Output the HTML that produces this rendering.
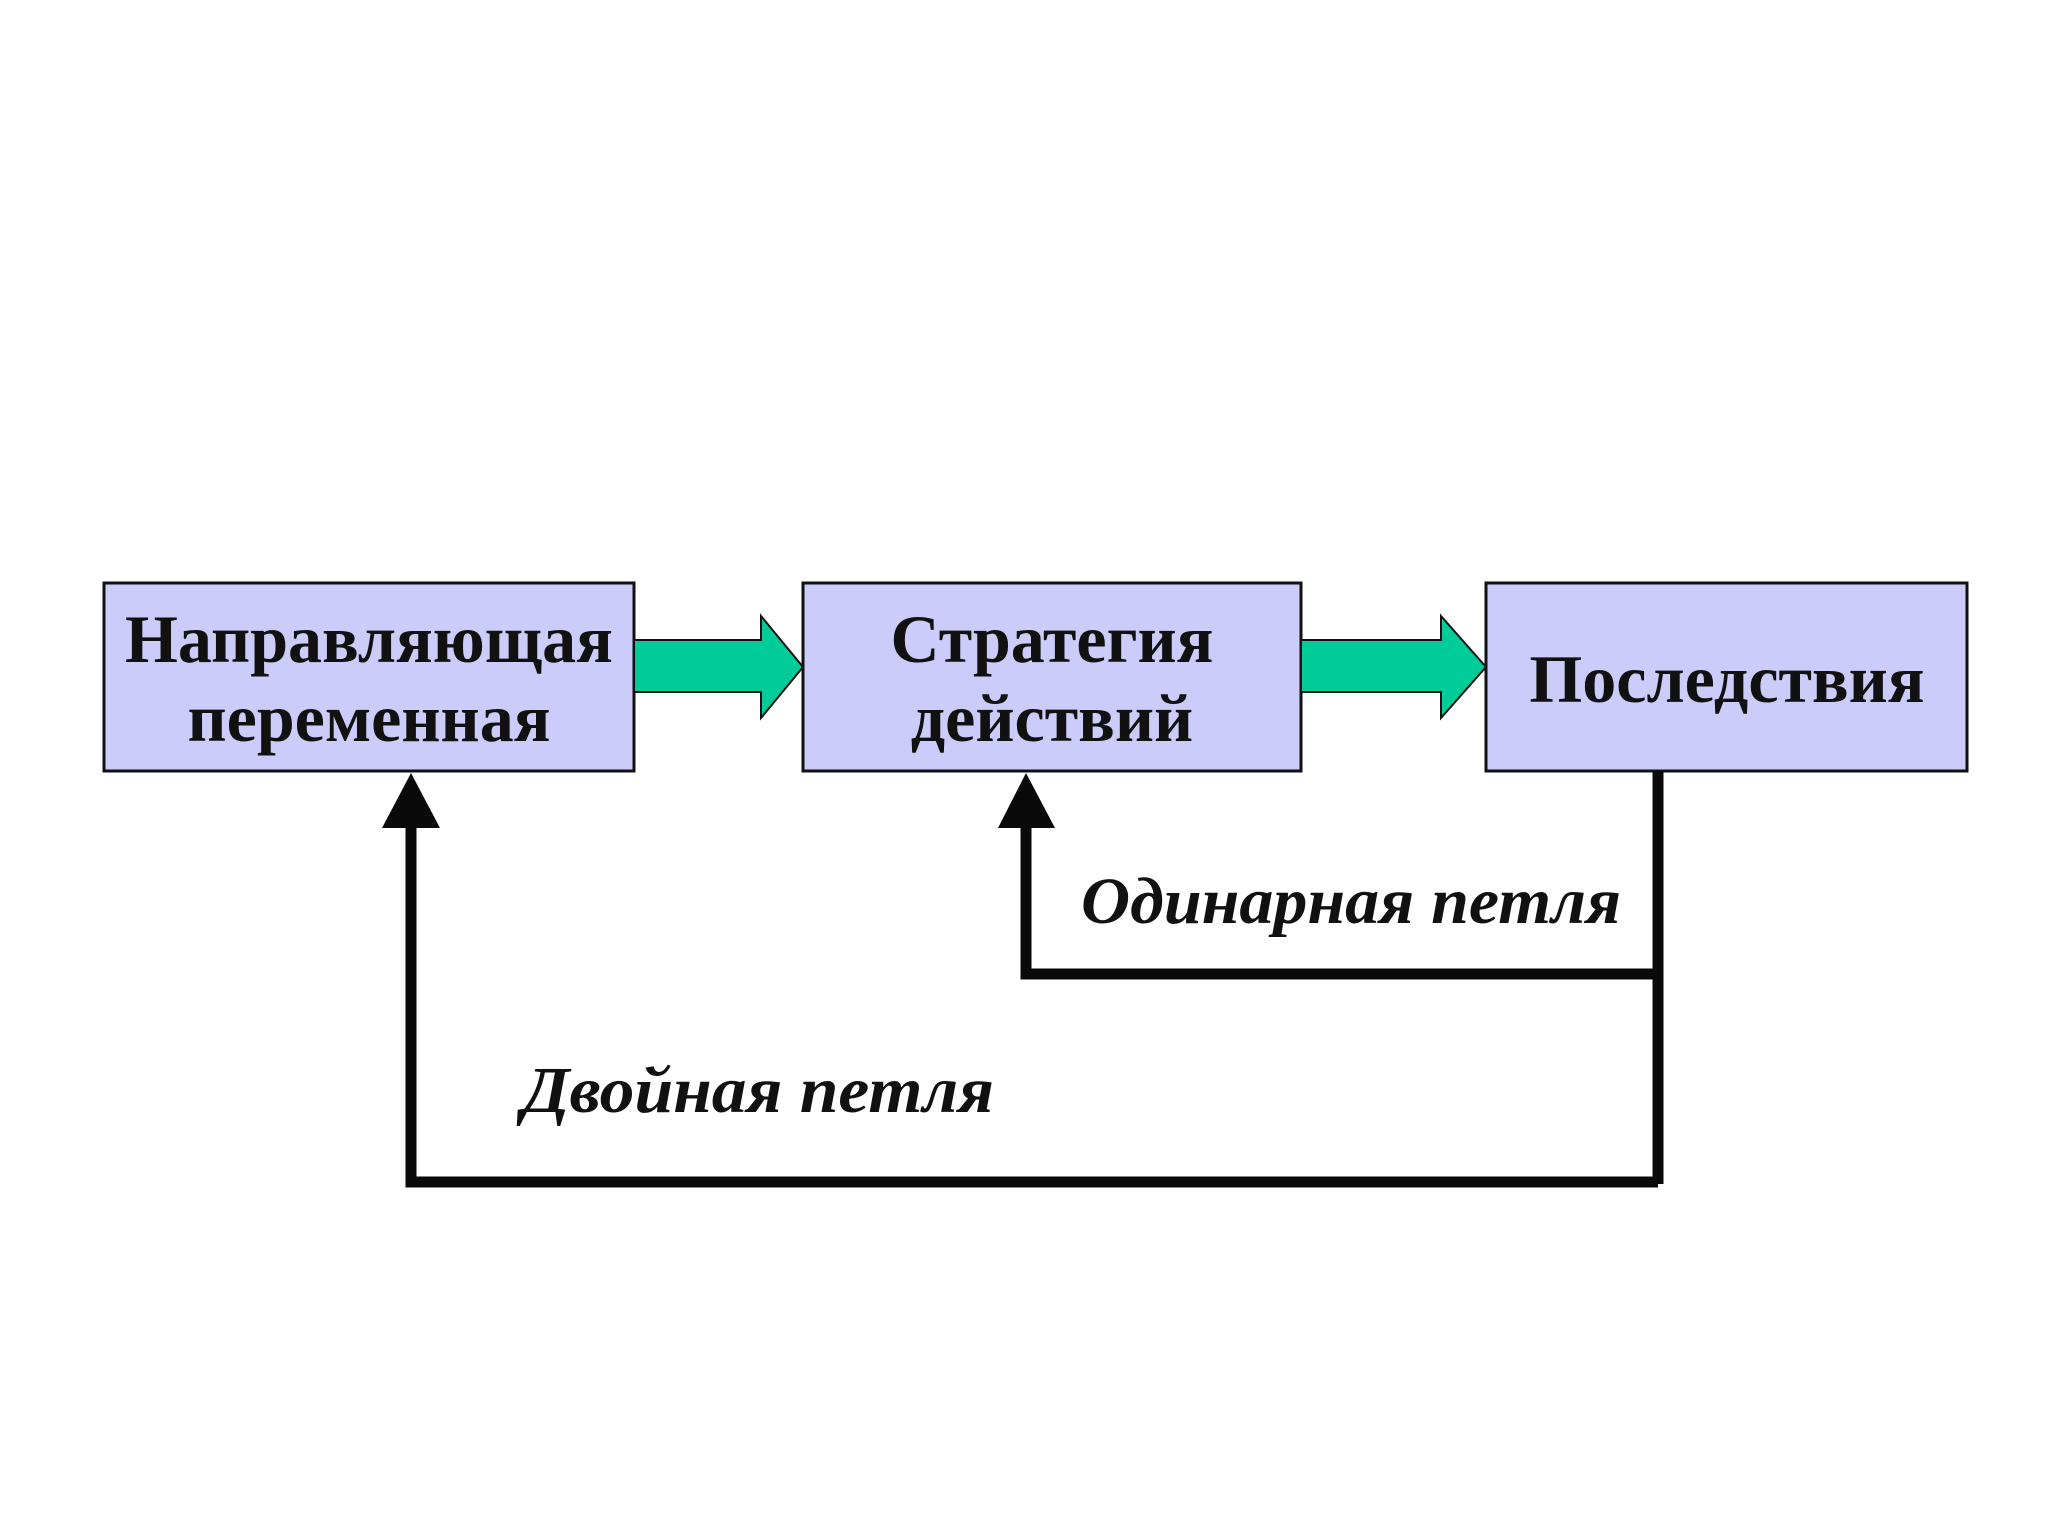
<!DOCTYPE html>
<html><head><meta charset="utf-8"><style>
html,body{margin:0;padding:0;background:#fff;}
svg{display:block;}
</style></head><body>
<svg width="2048" height="1536" viewBox="0 0 2048 1536" xmlns="http://www.w3.org/2000/svg">
<rect width="2048" height="1536" fill="#fff"/>
<rect x="104" y="583" width="530" height="188" fill="#ccccfa" stroke="#111" stroke-width="3"/>
<rect x="803" y="583" width="498" height="188" fill="#ccccfa" stroke="#111" stroke-width="3"/>
<rect x="1486" y="583" width="481" height="188" fill="#ccccfa" stroke="#111" stroke-width="3"/>
<polygon points="634,640 761,640 761,616 803,667 761,718 761,692 634,692" fill="#00cc99" stroke="#111" stroke-width="2"/>
<polygon points="1301,640 1441,640 1441,616 1486,667 1441,718 1441,692 1301,692" fill="#00cc99" stroke="#111" stroke-width="2"/>
<g fill="none" stroke="#0a0a0a" stroke-width="11">
<path d="M1658,771 L1658,1184"/>
<path d="M1026,826 L1026,974 L1658,974"/>
<path d="M411,826 L411,1182 L1658,1182"/>
</g>
<polygon points="1026,773 998,828 1055,828" fill="#0a0a0a"/>
<polygon points="411,773 382,828 440,828" fill="#0a0a0a"/>
<g font-family="'Liberation Serif','DejaVu Serif',serif" font-weight="bold" fill="#111" text-anchor="middle" font-size="68">
<text x="369" y="662">Направляющая</text>
<text x="369" y="741">переменная</text>
<text x="1052" y="662">Стратегия</text>
<text x="1052" y="741">действий</text>
<text x="1727" y="702">Последствия</text>
</g>
<g font-family="'Liberation Serif','DejaVu Serif',serif" font-weight="bold" font-style="italic" fill="#111" font-size="66">
<text x="1081" y="923" textLength="540" lengthAdjust="spacingAndGlyphs">Одинарная петля</text>
<text x="522" y="1112" textLength="472" lengthAdjust="spacingAndGlyphs">Двойная петля</text>
</g>
</svg>
</body></html>
